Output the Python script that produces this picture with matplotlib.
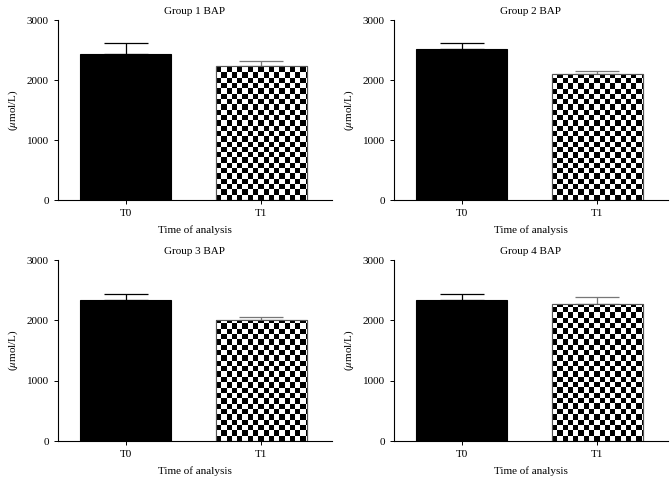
import numpy as np
import matplotlib
matplotlib.use("Agg")
import matplotlib.pyplot as plt

plt.rcParams['font.family'] = ['Liberation Serif', 'DejaVu Serif']
plt.rcParams['mathtext.fontset'] = 'stix'

# data
groups = ['Group 1 BAP', 'Group 2 BAP', 'Group 3 BAP', 'Group 4 BAP']
times = ['T0', 'T1']
means_t0 = [2430, 2520, 2330, 2330]
means_t1 = [2240, 2095, 2012, 2272]
err_t0 = [185, 100, 100, 100]
err_t1 = [78, 55, 38, 110]

W, H = 672, 486
fig = plt.figure(figsize=(W / 100, H / 100), dpi=100)

# axes boxes in pixels: left, top, right, bottom
boxes = [(58, 20, 332, 200), (394, 20, 668, 200),
         (58, 260, 332, 441), (394, 260, 668, 441)]

sq = 5.3  # checker square size in pixels
fs = 8

for i, (l, t, r, b) in enumerate(boxes):
    ax = fig.add_axes([l / W, 1 - b / H, (r - l) / W, (b - t) / H])
    x = np.arange(len(times))
    vals = [means_t0[i], means_t1[i]]
    bars = ax.bar(x, vals, width=0.67, color=['black', 'white'],
                  edgecolor=['black', '#555555'], linewidth=0.8, zorder=2)

    ax.set_xlim(-0.5, 1.52)
    ax.set_ylim(0, 3000)

    # checkerboard fill for T1, clipped to the bar
    nx = int(round((r - l) / sq))
    ny = int(round((b - t) / sq))
    board = (np.add.outer(np.arange(ny), np.arange(nx)) % 2).astype(float)
    im = ax.imshow(board, cmap='gray', extent=(-0.5, 1.52, 0, 3000),
                   aspect='auto', interpolation='nearest', zorder=2.5,
                   origin='lower')
    im.set_clip_path(bars[1])
    # re-draw outline of T1 on top
    ax.bar(x[1], vals[1], width=0.67, fill=False, edgecolor='#555555',
           linewidth=0.8, zorder=3)

    ax.errorbar(x[0], means_t0[i], yerr=[[0], [err_t0[i]]], color='black',
                capsize=15.8, elinewidth=0.9, capthick=0.9, fmt='none', zorder=1)
    ax.errorbar(x[1], means_t1[i], yerr=[[0], [err_t1[i]]], color='#777777',
                capsize=15.8, elinewidth=0.9, capthick=0.9, fmt='none', zorder=1)

    ax.set_xticks(x)
    ax.set_xticklabels(times)
    ax.set_yticks([0, 1000, 2000, 3000])
    ax.tick_params(labelsize=fs, length=3, width=0.7)
    for s in ['top', 'right']:
        ax.spines[s].set_visible(False)
    for s in ['left', 'bottom']:
        ax.spines[s].set_linewidth(0.8)
    ax.set_title(groups[i], fontsize=fs, pad=4)
    ax.set_xlabel('Time of analysis', fontsize=fs, labelpad=5)
    ax.set_ylabel('($\\mu$mol/L)', fontsize=fs, labelpad=5)

fig.savefig('out.png', dpi=100)
